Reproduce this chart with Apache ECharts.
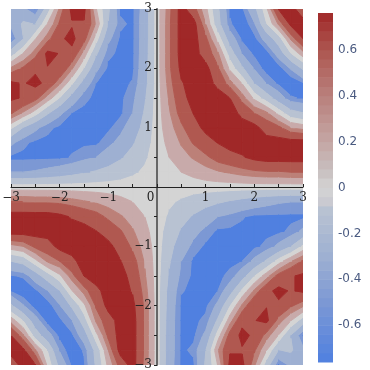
<!DOCTYPE html>
<html><head><meta charset="utf-8">
<style>html,body{margin:0;padding:0;background:#fff}#c{width:370px;height:370px}</style>
<script src="https://cdn.jsdelivr.net/npm/echarts@6/dist/echarts.min.js"></script>
</head><body><div id="c"></div>
<script>
// grid spacing 0.25; rows = |y| 0..3, columns = |x| 0..3
const gridStep = 0.25;
const sameSignQuadrant = [
[0,0,0,0,0,0,0,0,0,0,0,0,0],
[0,.04,.09,.14,.2,.25,.29,.34,.38,.40,.40,.42,.42],
[0,.09,.2,.29,.38,.5,.57,.64,.72,.76,.76,.76,.76],
[0,.14,.29,.44,.57,.67,.76,.76,.76,.76,.76,.76,.76],
[0,.2,.38,.57,.72,.76,.76,.76,.74,.55,.47,.27,.2],
[0,.25,.5,.67,.76,.76,.76,.6,.42,.3,.03,-.25,-.34],
[0,.29,.57,.76,.76,.76,.66,.35,.05,-.2,-.48,-.71,-.75],
[0,.34,.64,.76,.76,.6,.33,.08,-.35,-.61,-.76,-.85,-.75],
[0,.38,.72,.76,.74,.45,.05,-.3,-.62,-.8,-.8,-.58,-.3],
[0,.38,.76,.76,.55,.3,-.2,-.61,-.76,-.8,-.5,-.1,.2],
[0,.38,.76,.76,.47,.03,-.48,-.76,-.78,-.5,-.2,.3,.66],
[0,.38,.76,.76,.27,-.25,-.71,-.85,-.62,-.1,.3,.72,.76],
[0,.36,.76,.5,.14,-.3,-.76,-.76,-.42,.05,.68,.76,.5]
];
const oppositeSignQuadrant = [
[0,0,0,0,0,0,0,0,0,0,0,0,0],
[0,-.06,-.12,-.19,-.25,-.31,-.37,-.43,-.49,-.54,-.58,-.6,-.6],
[0,-.12,-.25,-.37,-.49,-.6,-.65,-.72,-.76,-.76,-.76,-.76,-.76],
[0,-.19,-.37,-.54,-.65,-.76,-.76,-.76,-.76,-.76,-.76,-.7,-.55],
[0,-.25,-.49,-.65,-.76,-.76,-.76,-.76,-.76,-.7,-.55,-.35,-.05],
[0,-.31,-.6,-.76,-.76,-.76,-.76,-.73,-.55,-.3,0,.25,.45],
[0,-.37,-.65,-.76,-.76,-.76,-.7,-.45,-.1,.2,.5,.64,.7],
[0,-.43,-.72,-.76,-.76,-.73,-.45,-.05,.3,.6,.72,.64,.7],
[0,-.45,-.76,-.76,-.76,-.55,-.1,.3,.62,.65,.62,.45,.3],
[0,-.47,-.76,-.76,-.7,-.3,.2,.6,.65,.72,.35,.1,-.2],
[0,-.48,-.76,-.76,-.55,0,.5,.72,.62,.35,.08,-.35,-.76],
[0,-.48,-.76,-.7,-.35,.25,.64,.64,.45,.1,-.35,-.3,-.55],
[0,-.5,-.76,-.76,-.3,.1,.72,.72,.3,-.2,-.76,-.55,-.45]
];
const bandEdges = [-9,-.73,-.6,-.34,-.09,.09,.27,.42,.66,9];
const bandColors = ['#5080e0','#7c98d4','#9eb0d2','#b8c2d2','#d4d4d4','#c8aaaa','#bc8078','#b05850','#a02828'];
const barColorStops = [[.76,'#a02828'],[.6,'#ad5650'],[.4,'#b9807c'],[.2,'#c4a6a4'],[.07,'#c8c0c0'],[0,'#d4d4d4'],[-.07,'#c8c8d0'],[-.1,'#b8c2d2'],[-.3,'#9eb0d2'],[-.5,'#7c98d4'],[-.76,'#5080e0']];
const barRange = [-.76,.76];
const barStepCount = 38;
const barTickValues = [-.6,-.4,-.2,0,.2,.4,.6];
const plotRange = [-3,3];

const half = sameSignQuadrant.length - 1;
function zAt(ix, iy){
  const ax = Math.abs(ix), ay = Math.abs(iy);
  return (ix * iy >= 0 ? sameSignQuadrant : oppositeSignQuadrant)[ay][ax];
}
const cells = [];
for (let iy = -half; iy < half; iy++) for (let ix = -half; ix < half; ix++) cells.push([ix, iy]);

function clipAt(poly, level, keepAbove){
  const out = [];
  for (let k = 0; k < poly.length; k++){
    const a = poly[k], b = poly[(k+1) % poly.length];
    const ain = keepAbove ? a[2] >= level : a[2] <= level;
    const bin = keepAbove ? b[2] >= level : b[2] <= level;
    if (ain) out.push(a);
    if (ain !== bin){
      const t = (level - a[2]) / (b[2] - a[2]);
      out.push([a[0]+t*(b[0]-a[0]), a[1]+t*(b[1]-a[1]), level]);
    }
  }
  return out;
}
function renderCell(params, api){
  const ix = api.value(0), iy = api.value(1);
  const quad = [[ix,iy],[ix+1,iy],[ix+1,iy+1],[ix,iy+1]].map(p => [p[0]*gridStep, p[1]*gridStep, zAt(p[0],p[1])]);
  const children = [];
  bandColors.forEach((color, b) => {
    let poly = clipAt(quad, bandEdges[b], true);
    if (poly.length) poly = clipAt(poly, bandEdges[b+1], false);
    if (poly.length < 3) return;
    children.push({type:'polygon', shape:{points: poly.map(p => api.coord([p[0],p[1]]))},
      style:{fill:color, stroke:color, lineWidth:1}});
  });
  return {type:'group', children};
}
function barColor(v){
  for (let k = 0; k < barColorStops.length-1; k++){
    const a = barColorStops[k], b = barColorStops[k+1];
    if (v <= a[0] && v >= b[0]) return echarts.color.lerp((a[0]-v)/(a[0]-b[0]), [a[1], b[1]]);
  }
  return barColorStops[0][1];
}
const barData = [];
for (let k = 0; k < barStepCount; k++) barData.push([k]);
function renderBar(params, api){
  const k = api.value(0), w = (barRange[1]-barRange[0]) / barStepCount;
  const lo = barRange[0] + k*w;
  const p0 = api.coord([0, lo]), p1 = api.coord([1, lo+w]);
  return {type:'rect', shape:{x:p0[0], y:p1[1], width:p1[0]-p0[0], height:p0[1]-p1[1]+.5},
    style:{fill:barColor(lo+w/2)}};
}
const serif = '"DejaVu Serif"';
const chart = echarts.init(document.getElementById('c'), null, {renderer:'canvas'});
chart.setOption({
  animation:false,
  grid:[{left:11,right:67,top:9,bottom:5,outerBoundsMode:'none'},{left:318,width:15,top:13,height:349,outerBoundsMode:'none'}],
  xAxis:[{type:'value',gridIndex:0,min:plotRange[0],max:plotRange[1],interval:1,z:5,
    position:'bottom',offset:-178,
    axisLine:{onZero:false,lineStyle:{color:'#222',width:1}},
    axisTick:{inside:true,length:3,lineStyle:{color:'#222'}},
    minorTick:{show:true,splitNumber:2,length:3,lineStyle:{color:'#222'}},
    splitLine:{show:false},
    axisLabel:{color:'#222',fontFamily:serif,fontSize:12,margin:5,hideOverlap:false,
      formatter:v => v === 0 ? '{z|0}' : String(v).replace('-','\u2212'),
      rich:{z:{padding:[0,13,0,0],color:'#222',fontFamily:serif,fontSize:12}}}},
    {type:'value',gridIndex:1,min:0,max:1,show:false}],
  yAxis:[{type:'value',gridIndex:0,min:plotRange[0],max:plotRange[1],interval:1,z:5,
    position:'left',offset:-146,
    axisLine:{onZero:false,lineStyle:{color:'#666',width:2}},
    axisTick:{length:3,lineStyle:{color:'#222'}},
    minorTick:{show:true,splitNumber:2,length:3,lineStyle:{color:'#222'}},
    splitLine:{show:false},
    axisLabel:{color:'#222',fontFamily:serif,fontSize:12,margin:5,hideOverlap:false,
      formatter:v => v === 0 ? '' : String(v).replace('-','\u2212')}},
    {type:'value',gridIndex:1,min:barRange[0],max:barRange[1],position:'right',
      axisLine:{show:false},axisTick:{show:false},splitLine:{show:false},
      axisLabel:{color:'#4a5a80',fontFamily:'"DejaVu Sans"',fontSize:12,margin:5,
        customValues:barTickValues,formatter:v => String(+v.toFixed(1))}}],
  series:[
    {type:'custom',xAxisIndex:0,yAxisIndex:0,coordinateSystem:'cartesian2d',clip:true,
      data:cells,encode:{x:0,y:1},renderItem:renderCell,silent:true,z:1},
    {type:'custom',xAxisIndex:1,yAxisIndex:1,coordinateSystem:'cartesian2d',
      data:barData,encode:{x:[],y:[]},renderItem:renderBar,silent:true,z:1}
  ]
});
</script></body></html>
